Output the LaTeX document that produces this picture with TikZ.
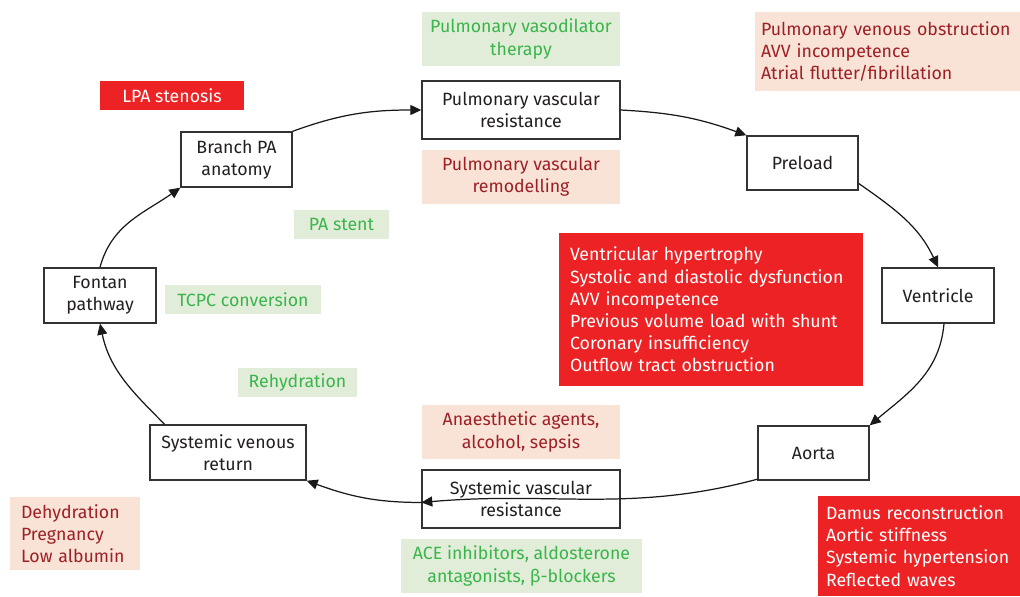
\documentclass[tikz,border=0pt]{standalone}
\usepackage{fontspec}
\setmainfont{Fira Sans}
\usetikzlibrary{positioning}
\usetikzlibrary{arrows.meta}
\definecolor{hitred}{RGB}{237,34,36}
\definecolor{fixtext}{RGB}{57,181,74}
\definecolor{fixfill}{RGB}{226,237,217}
\definecolor{risktext}{RGB}{158,31,36}
\definecolor{riskfill}{RGB}{248,227,214}
\definecolor{inktext}{RGB}{35,31,32}
\tikzset{
    stage/.style = {rectangle, line width=0.8pt, draw=black!80, fill=white, align=center, inner sep=0pt, text=inktext},
    fixbox/.style = {rectangle, fill=fixfill, text=fixtext, align=center, inner sep=0pt},
    riskbox/.style = {rectangle, fill=riskfill, text=risktext, align=center, inner sep=0pt},
    hitbox/.style = {rectangle, fill=hitred, text=white, align=center, inner sep=0pt},
    listbox/.style = {align=left, inner xsep=#1, inner ysep=0pt},
    flow/.style = {-{Triangle[length=0.22cm,width=0.2cm]}, line width=0.7pt, black!90},
    every picture/.style={font issue=\fontsize{10.1}{12.6}},
    font issue/.style={execute at begin picture={#1\selectfont}
  }
}

\begin{document}
\begin{tikzpicture}[x=0.02cm, y=0.02cm]
\useasboundingbox (0,0) rectangle (1020,596);
% stages of the circulation
\node[stage, minimum width=3.96cm, minimum height=1.16cm] at (521, 486) (pvr) {Pulmonary vascular\\resistance};
\node[stage, minimum width=2.22cm, minimum height=1.08cm] at (802.5, 433) (preload) {Preload};
\node[stage, minimum width=2.24cm, minimum height=1.1cm] at (938, 300.5) (ventricle) {Ventricle};
\node[stage, minimum width=2.22cm, minimum height=1.08cm] at (813.5, 143) (aorta) {Aorta};
\node[stage, minimum width=3.96cm, minimum height=1.16cm] at (521, 97) (svr) {Systemic vascular\\resistance};
\node[stage, minimum width=3.12cm, minimum height=1.1cm] at (228, 143.5) (venous) {Systemic venous\\return};
\node[stage, minimum width=2.24cm, minimum height=1.1cm] at (100, 300.5) (fontan) {Fontan\\pathway};
\node[stage, minimum width=2.22cm, minimum height=1.1cm] at (236.5, 436.5) (branch) {Branch PA\\anatomy};
%
% treatments
\node[fixbox, minimum width=3.96cm, minimum height=1.08cm] at (521, 557) (vasodil) {Pulmonary vasodilator\\therapy};
\node[fixbox, minimum width=1.9cm, minimum height=0.58cm] at (341.5, 371.5) (stent) {PA stent};
\node[fixbox, minimum width=3.12cm, minimum height=0.58cm] at (243, 296.5) (tcpc) {TCPC conversion};
\node[fixbox, minimum width=2.38cm, minimum height=0.58cm] at (297.5, 213.5) (rehyd) {Rehydration};
\node[fixbox, minimum width=4.82cm, minimum height=1.08cm] at (521.5, 30) (ace) {ACE inhibitors, aldosterone\\antagonists, β-blockers};
%
% risk factors
\node[riskbox, minimum width=3.96cm, minimum height=1.08cm] at (521, 419) (remodel) {Pulmonary vascular\\remodelling};
\node[riskbox, listbox=0.12cm, text width=5.06cm, minimum height=1.58cm] at (887.5, 544.5) (venobs) {Pulmonary venous obstruction\\AVV incompetence\\Atrial flutter/fibrillation};
\node[riskbox, listbox=0.22cm, text width=2.16cm, minimum height=1.46cm] at (75, 62.5) (dehyd) {Dehydration\\Pregnancy\\Low albumin};
\node[riskbox, minimum width=3.96cm, minimum height=1.08cm] at (521, 164) (anaes) {Anaesthetic agents,\\alcohol, sepsis};
%
% lesions
\node[hitbox, minimum width=2.88cm, minimum height=0.58cm] at (172, 500.5) (lpa) {LPA stenosis};
\node[hitbox, listbox=0.22cm, text width=5.64cm, minimum height=3.06cm] at (711, 286.5) (ventlist) {Ventricular hypertrophy\\Systolic and diastolic dysfunction\\AVV incompetence\\Previous volume load with shunt\\Coronary insufficiency\\Outflow tract obstruction};
\node[hitbox, listbox=0.16cm, text width=3.72cm, minimum height=2.0cm] at (919, 50) (damus) {Damus reconstruction\\Aortic stiffness\\Systemic hypertension\\Reflected waves};
%
\draw[flow] (branch.north east) to[out=20, in=180] (pvr.west);
\draw[flow] (pvr.east) to[out=-3, in=160] (preload.north west);
\draw[flow] (preload.-20) to[out=-35, in=115] (ventricle.north);
\draw[flow] (ventricle.-78) to[out=-95, in=40] (aorta.north east);
\draw[flow] (aorta.205) to[out=195, in=5] (svr.182);
\draw[flow] (svr.182) to[out=180, in=-20] (venous.south east);
\draw[flow] (venous.156) to[out=135, in=-78] (fontan.south);
\draw[flow] (fontan.north) to[out=75, in=215] (branch.south west);
\end{tikzpicture}
\end{document}
